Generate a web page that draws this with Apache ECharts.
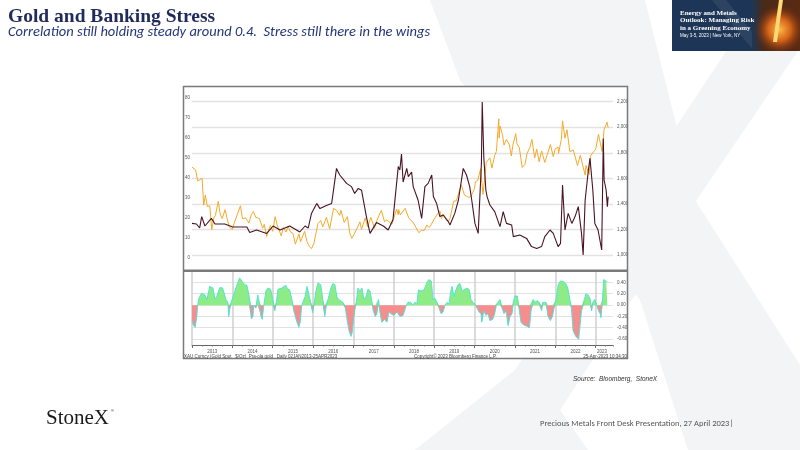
<!DOCTYPE html>
<html><head><meta charset="utf-8">
<script src="https://cdn.jsdelivr.net/npm/echarts@6/dist/echarts.min.js"></script>
<style>html,body{margin:0;padding:0;background:#fff}#c{width:800px;height:450px}</style>
</head><body><div id="c"></div>
<script>
// ---- data (x values in decimal years) ----
const goldYears = [2013.00,2013.04,2013.09,2013.14,2013.20,2013.25,2013.29,2013.33,2013.38,2013.44,2013.49,2013.54,2013.58,2013.65,2013.70,2013.75,2013.82,2013.87,2013.92,
2014.00,2014.04,2014.08,2014.20,2014.25,2014.29,2014.33,2014.41,2014.47,2014.52,2014.58,2014.62,2014.67,2014.75,2014.79,2014.85,2014.90,2014.94,
2015.00,2015.06,2015.11,2015.21,2015.26,2015.33,2015.38,2015.44,2015.50,2015.56,2015.65,2015.69,2015.79,2015.85,2015.91,2015.96,
2016.02,2016.12,2016.19,2016.24,2016.33,2016.41,2016.48,2016.51,2016.58,2016.66,2016.69,2016.77,2016.85,2016.91,2016.96,
2017.01,2017.09,2017.16,2017.20,2017.29,2017.35,2017.43,2017.52,2017.58,2017.69,2017.77,2017.83,2017.87,2017.95,
2018.07,2018.11,2018.12,2018.16,2018.28,2018.37,2018.41,2018.49,2018.55,2018.62,2018.69,2018.75,2018.82,2018.87,2018.92,
2019.00,2019.08,2019.14,2019.18,2019.23,2019.31,2019.38,2019.42,2019.48,2019.55,2019.58,2019.67,2019.75,2019.79,2019.86,2019.92,
2020.00,2020.02,2020.08,2020.15,2020.19,2020.21,2020.29,2020.38,2020.43,2020.50,2020.54,2020.58,2020.60,2020.61,2020.63,2020.69,2020.73,2020.79,2020.86,2020.91,2020.95,
2021.02,2021.05,2021.11,2021.18,2021.25,2021.30,2021.37,2021.42,2021.49,2021.54,2021.60,2021.66,2021.74,2021.80,2021.88,2021.95,
2022.00,2022.07,2022.08,2022.15,2022.18,2022.24,2022.29,2022.36,2022.45,2022.55,2022.62,2022.74,2022.76,2022.84,2022.87,2022.95,
2023.00,2023.07,2023.09,2023.16,2023.18,2023.21,2023.26,2023.28,2023.31];
const goldPrice = [1688,1680,1665,1580,1590,1600,1390,1470,1380,1385,1200,1290,1310,1420,1320,1285,1355,1285,1220,
1200,1245,1240,1385,1285,1300,1290,1250,1315,1340,1295,1305,1285,1210,1240,1145,1195,1230,
1185,1300,1235,1150,1215,1180,1225,1180,1170,1085,1165,1105,1185,1105,1065,1050,
1090,1245,1270,1220,1295,1205,1320,1366,1350,1310,1350,1255,1300,1170,1130,
1160,1210,1260,1200,1290,1220,1295,1210,1270,1350,1260,1275,1285,1240,
1360,1315,1355,1315,1365,1290,1295,1250,1215,1175,1195,1190,1235,1215,1235,
1280,1320,1345,1285,1320,1270,1275,1325,1420,1425,1410,1550,1470,1485,1450,1465,
1520,1575,1585,1675,1680,1475,1725,1760,1680,1780,1810,1975,2065,1915,2010,1945,1860,1905,1865,1775,1860,
1950,1870,1840,1685,1710,1795,1840,1905,1760,1830,1730,1815,1725,1785,1865,1770,
1830,1845,1795,1905,2050,1915,1980,1810,1820,1700,1780,1625,1700,1630,1775,1810,
1825,1945,1955,1810,1815,1985,2020,2040,1998];

const stressYears = [2013.00,2013.11,2013.19,2013.24,2013.32,2013.48,2013.57,2013.81,2014.01,2014.36,2014.43,2014.60,2014.85,2015.01,2015.18,2015.42,2015.59,2015.67,2015.80,2015.88,2015.96,
2016.09,2016.17,2016.33,2016.46,2016.58,2016.66,2016.83,2016.95,2017.03,2017.12,2017.20,2017.32,2017.41,2017.57,2017.74,2017.86,2017.98,
2018.11,2018.15,2018.19,2018.23,2018.32,2018.36,2018.44,2018.48,2018.60,2018.69,2018.77,2018.85,2018.94,2018.98,
2019.06,2019.14,2019.22,2019.35,2019.39,2019.51,2019.60,2019.72,2019.80,2019.88,2019.93,
2020.01,2020.09,2020.17,2020.19,2020.23,2020.28,2020.31,2020.38,2020.50,2020.63,2020.71,2020.79,2020.92,2020.96,
2021.12,2021.29,2021.41,2021.54,2021.66,2021.74,2021.87,2021.95,
2022.07,2022.13,2022.18,2022.24,2022.32,2022.41,2022.49,2022.57,2022.65,2022.69,2022.74,2022.82,2022.86,2022.93,2022.98,
2023.06,2023.15,2023.19,2023.21,2023.26,2023.29,2023.31];
const stressValues = [17.3,17,15,20.7,16,19.8,17,17,15.5,15.5,12.7,14,12.3,16,14,16,14,13,16,15,22.3,
27.3,24.7,26.3,27.3,44.8,41.5,37.3,35.7,32.3,34.8,33.9,20.7,12.3,17.7,16,14,19.3,
45.7,44,52,38,44.8,40.7,43,35.7,29,19.8,35.7,37.3,41.5,30.7,
27.3,20.7,21.5,18.2,16.5,22.3,29,44.8,41.5,35.7,29,
17.3,12.3,47.3,78,50,34,30.7,26.5,23.2,15.7,23.2,17.3,16.5,10.7,
11.5,9.8,5.7,4.8,5.7,10.7,14,12.3,
5.7,7.3,36.5,14,22.3,17.3,20.7,25.7,12.3,1.5,29,44,49.8,34,17.3,
14,4,59.8,39,34,25.7,30.7];

const corrYears = [2013.00,2013.03,2013.08,2013.12,2013.14,2013.16,2013.19,2013.24,2013.32,2013.37,2013.44,2013.52,2013.57,2013.61,2013.69,2013.76,2013.84,2013.89,2013.91,2013.94,2013.97,
2014.04,2014.11,2014.18,2014.26,2014.31,2014.36,2014.41,2014.44,2014.47,2014.51,2014.53,2014.58,2014.63,2014.67,2014.71,2014.74,2014.78,2014.83,2014.88,2014.95,
2015.00,2015.05,2015.09,2015.13,2015.23,2015.32,2015.37,2015.42,2015.49,2015.52,2015.60,2015.65,2015.68,2015.72,2015.80,2015.85,2015.89,2015.94,2015.99,
2016.03,2016.07,2016.12,2016.19,2016.24,2016.29,2016.33,2016.37,2016.44,2016.49,2016.54,2016.59,2016.63,2016.66,2016.74,2016.80,2016.84,2016.89,2016.94,2016.97,
2017.01,2017.03,2017.07,2017.11,2017.16,2017.21,2017.26,2017.31,2017.36,2017.41,2017.46,2017.49,2017.54,2017.58,2017.62,2017.65,2017.70,2017.77,2017.83,2017.88,2017.93,
2018.00,2018.08,2018.15,2018.23,2018.27,2018.31,2018.35,2018.42,2018.47,2018.52,2018.57,2018.61,2018.67,2018.75,2018.82,2018.87,2018.93,2018.97,
2019.02,2019.07,2019.12,2019.17,2019.22,2019.27,2019.32,2019.37,2019.40,2019.44,2019.49,2019.53,2019.59,2019.64,2019.69,2019.74,2019.81,2019.87,2019.91,2019.96,
2020.01,2020.06,2020.11,2020.16,2020.18,2020.23,2020.28,2020.33,2020.38,2020.45,2020.50,2020.54,2020.58,2020.63,2020.68,2020.73,2020.78,2020.83,2020.88,2020.93,2020.96,
2021.00,2021.06,2021.10,2021.15,2021.22,2021.30,2021.36,2021.40,2021.45,2021.50,2021.55,2021.60,2021.66,2021.69,2021.77,2021.82,2021.88,2021.93,2021.97,
2022.02,2022.07,2022.12,2022.19,2022.26,2022.31,2022.36,2022.40,2022.44,2022.51,2022.58,2022.62,2022.65,2022.69,2022.72,2022.76,2022.81,2022.86,2022.90,2022.93,2022.98,
2023.03,2023.07,2023.11,2023.13,2023.17,2023.20,2023.26,2023.29];
const corrValues = [-0.25,-0.35,-0.39,-0.2,0.0,0.09,0.15,0.21,0.18,0.1,0.33,0.3,0.1,0.15,0.31,0.3,0.1,0.05,-0.2,-0.05,0.05,
0.2,0.35,0.48,0.4,0.36,0.35,0.18,0.05,-0.24,-0.2,0.0,-0.05,0.18,0.05,-0.2,-0.25,0.0,0.25,0.3,0.28,
0.1,-0.1,0.05,0.28,0.3,0.35,0.28,0.27,0.05,-0.1,-0.3,-0.39,-0.3,0.0,0.15,0.33,0.3,0.05,-0.13,
0.05,0.25,0.39,0.36,0.1,-0.2,0.0,0.1,0.3,0.38,0.36,0.15,0.1,0.12,0.05,-0.05,-0.25,-0.45,-0.55,-0.48,
-0.2,-0.1,0.05,0.3,0.25,0.3,0.1,0.15,0.28,0.25,0.05,-0.1,-0.2,-0.15,0.1,-0.1,-0.3,-0.25,-0.3,-0.12,-0.15,
-0.18,-0.12,-0.2,-0.18,-0.15,0.0,0.05,0.05,0.0,0.05,0.02,0.27,0.25,0.27,0.4,0.45,0.42,0.1,
0.12,0.05,-0.05,-0.15,-0.12,0.0,0.05,0.02,0.2,0.33,0.15,0.25,0.36,0.38,0.25,0.27,0.3,0.27,0.1,0.05,
0.02,-0.05,-0.12,-0.15,-0.3,-0.1,-0.18,-0.15,-0.27,-0.25,-0.15,0.0,0.05,0.1,-0.05,-0.15,-0.1,-0.36,-0.2,-0.15,0.05,
0.16,0.16,-0.05,-0.3,-0.35,-0.37,-0.4,-0.1,0.1,0.05,0.08,0.05,-0.1,0.05,0.05,-0.2,-0.27,-0.2,-0.05,
0.1,0.35,0.42,0.42,0.38,0.3,0.1,-0.05,-0.45,-0.55,-0.6,-0.58,-0.1,0.0,0.1,0.2,0.18,0.12,-0.1,0.05,0.1,
0.0,-0.1,-0.15,-0.22,0.1,0.45,0.42,0.4];

const yearLabels = ['2013','2014','2015','2016','2017','2018','2019','2020','2021','2022','2023'];
const yearLabelPos = [2013.5,2014.5,2015.5,2016.5,2017.5,2018.5,2019.5,2020.5,2021.5,2022.5,2023.16];
const yearStarts = [2013,2014,2015,2016,2017,2018,2019,2020,2021,2022,2023];

const zip = (xs, ys) => xs.map((x, i) => [x, ys[i]]);
// positive and negative parts of the correlation, for the green / red fills
const corrPos = zip(corrYears, corrValues.map(v => (v > 0 ? v : 0)));
const corrNeg = zip(corrYears, corrValues.map(v => (v < 0 ? v : 0)));

const X_MIN = 2013, X_MAX = 2023.43;
const tickFont = {fontSize: 4.5, color: '#555', fontFamily: 'Liberation Sans'};

const chart = echarts.init(document.getElementById('c'), null, {renderer: 'canvas'});
const WM = '#f3f4f6';
const option = {
  animation: false,
  backgroundColor: '#ffffff',
  grid: [
    {left: 192, right: 187, top: 98, height: 160},
    {left: 192, right: 187, top: 101.7, height: 153.3},
    {left: 192, right: 187, top: 271, height: 74},
    {left: 192, right: 187, top: 282.3, height: 56.7}
  ],
  xAxis: [
    {gridIndex: 0, type: 'value', min: X_MIN, max: X_MAX, show: false},
    {gridIndex: 1, type: 'value', min: X_MIN, max: X_MAX, show: false},
    {gridIndex: 2, type: 'value', min: X_MIN, max: X_MAX, position: 'bottom',
      axisLine: {show: true, onZero: false, lineStyle: {color: '#666', width: 1}},
      axisTick: {show: true, customValues: yearStarts, length: 3, lineStyle: {color: '#666'}},
      splitLine: {show: true, lineStyle: {color: '#cfcfcf', width: 1.5}},
      axisLabel: Object.assign({customValues: yearLabelPos, margin: 4,
        formatter: v => yearLabels[yearLabelPos.indexOf(v)] || ''}, tickFont)},
    {gridIndex: 2, type: 'value', min: X_MIN, max: X_MAX, interval: 0.25, position: 'bottom',
      axisLine: {show: false, onZero: false}, axisLabel: {show: false}, splitLine: {show: false},
      axisTick: {show: true, length: 1.8, lineStyle: {color: '#777', width: 0.6}}},
    {gridIndex: 3, type: 'value', min: X_MIN, max: X_MAX, show: false}
  ],
  yAxis: [
    {gridIndex: 0, type: 'value', min: 0, max: 80, interval: 10, position: 'left',
      axisLine: {show: false}, axisTick: {show: false}, splitLine: {show: false},
      axisLabel: Object.assign({margin: 2}, tickFont)},
    {gridIndex: 1, type: 'value', min: 1000, max: 2200, interval: 200, position: 'right',
      axisLine: {show: false}, axisTick: {show: false},
      splitLine: {show: true, lineStyle: {color: '#e2e2e2', width: 1.3}},
      axisLabel: Object.assign({margin: 4}, tickFont)},
    {gridIndex: 2, type: 'value', min: -0.7, max: 0.6, show: false},
    {gridIndex: 3, type: 'value', min: -0.6, max: 0.4, interval: 0.2, position: 'right',
      axisLine: {show: false}, axisTick: {show: false},
      splitLine: {show: true, lineStyle: {color: '#e2e2e2', width: 1.2}},
      axisLabel: Object.assign({margin: 4, formatter: v => v.toFixed(2)}, tickFont)}
  ],
  series: [
    {name: 'Gold', type: 'line', xAxisIndex: 1, yAxisIndex: 1, data: zip(goldYears, goldPrice),
      showSymbol: false, lineStyle: {color: '#f4aa2a', width: 1}, z: 3},
    {name: 'Stress', type: 'line', xAxisIndex: 0, yAxisIndex: 0, data: zip(stressYears, stressValues),
      showSymbol: false, lineStyle: {color: '#4a1322', width: 1.1}, z: 4},
    {name: 'CorrPos', type: 'line', xAxisIndex: 2, yAxisIndex: 2, data: corrPos,
      showSymbol: false, lineStyle: {width: 0}, areaStyle: {color: '#8eec86', opacity: 1}, z: 3},
    {name: 'CorrNeg', type: 'line', xAxisIndex: 2, yAxisIndex: 2, data: corrNeg,
      showSymbol: false, lineStyle: {width: 0}, areaStyle: {color: '#f68e8e', opacity: 1}, z: 3},
    {name: 'Corr', type: 'line', xAxisIndex: 2, yAxisIndex: 2, data: zip(corrYears, corrValues),
      showSymbol: false, lineStyle: {color: '#45e3dc', width: 0.9}, z: 4}
  ],
  graphic: [
    // watermark X
    {type: 'polygon', z: -5, silent: true, shape: {points: [[430,0],[645,0],[695,200],[800,365],[800,450],[688,450],[640,300],[460,80]]}, style: {fill: WM}},
    {type: 'polygon', z: -5, silent: true, shape: {points: [[760,0],[800,0],[800,48],[700,195],[560,410],[588,450],[415,450],[515,370]]}, style: {fill: WM}},
    // chart image background
    {type: 'rect', z: -4, silent: true, shape: {x: 183, y: 86, width: 445, height: 273}, style: {fill: '#ffffff'}},
    // chart frame
    {type: 'rect', z: 10, silent: true, shape: {x: 183.5, y: 86.5, width: 444, height: 272}, style: {fill: 'none', stroke: '#7a7a7a', lineWidth: 1.5}},
    {type: 'rect', z: 10, silent: true, shape: {x: 183, y: 269.5, width: 445, height: 2.5}, style: {fill: '#7a7a7a'}},
    // in-chart footers
    {type: 'text', z: 10, style: {text: 'XAU Curncy (Gold Spot   $/Oz)  Pra-ola gold   Daily 02JAN2013-25APR2023', x: 184, y: 357, verticalAlign: 'middle', font: '4.5px "Liberation Sans"', fill: '#444'}},
    {type: 'text', z: 10, style: {text: 'Copyright\u00a9 2023 Bloomberg Finance L.P.', x: 414, y: 357, verticalAlign: 'middle', font: '4.5px "Liberation Sans"', fill: '#444'}},
    {type: 'text', z: 10, style: {text: '25-Apr-2023 10:34:30', x: 627, y: 357, align: 'right', verticalAlign: 'middle', font: '4.5px "Liberation Sans"', fill: '#444'}},
    // title
    {type: 'text', style: {text: 'Gold and Banking Stress', x: 8, y: 17, verticalAlign: 'middle', font: 'bold 19.5px "Liberation Serif"', fill: '#1f2b5b'}},
    {type: 'text', style: {text: 'Correlation still holding steady around 0.4.  Stress still there in the wings', x: 8, y: 32.5, verticalAlign: 'middle', font: 'italic 14.5px Carlito, "Liberation Sans Narrow", "Open Sans"', fill: '#25357a'}},
    // banner
    {type: 'rect', z: 5, shape: {x: 672, y: 0, width: 128, height: 51}, style: {fill: '#1d3657'}},
    {type: 'polygon', z: 5, shape: {points: [[712,0],[726,0],[768,51],[754,51]]}, style: {fill: 'rgba(255,255,255,0.07)'}},
    {type: 'rect', z: 5, shape: {x: 752, y: 0, width: 48, height: 51}, style: {fill: new echarts.graphic.LinearGradient(0,0,1,0,[{offset:0,color:'#1d3657'},{offset:0.25,color:'#4a2a18'},{offset:1,color:'#5a2a12'}])}},
    {type: 'rect', z: 5, shape: {x: 754, y: 0, width: 46, height: 51}, style: {fill: new echarts.graphic.RadialGradient(0.55,0.58,0.55,[{offset:0,color:'rgba(255,190,70,1)'},{offset:0.45,color:'rgba(235,110,25,0.85)'},{offset:1,color:'rgba(120,40,10,0)'}])}},
    {type: 'polygon', z: 5, shape: {points: [[779,0],[783,0],[777,42],[773,42]]}, style: {fill: '#ffd877'}},
    {type: 'text', z: 6, style: {text: 'Energy and Metals', x: 680, y: 13, verticalAlign: 'middle', font: 'bold 7px "Liberation Serif"', fill: '#fff'}},
    {type: 'text', z: 6, style: {text: 'Outlook: Managing Risk', x: 680, y: 20.5, verticalAlign: 'middle', font: 'bold 7px "Liberation Serif"', fill: '#fff'}},
    {type: 'text', z: 6, style: {text: 'in a Greening Economy', x: 680, y: 28, verticalAlign: 'middle', font: 'bold 7px "Liberation Serif"', fill: '#fff'}},
    {type: 'text', z: 6, style: {text: 'May 3-5, 2023 | New York, NY', x: 680, y: 35.5, verticalAlign: 'middle', font: '4.5px "Liberation Sans"', fill: '#fff'}},
    // footer
    {type: 'text', style: {text: 'Source:  Bloomberg,  StoneX', x: 573, y: 379, verticalAlign: 'middle', font: 'italic 6.5px "Liberation Sans"', fill: '#333'}},
    {type: 'text', style: {text: 'StoneX', x: 46, y: 418, verticalAlign: 'middle', font: '21px "Liberation Serif"', fill: '#1a1a1a'}},
    {type: 'text', style: {text: '\u00ae', x: 111, y: 411, verticalAlign: 'middle', font: '4px "Liberation Sans"', fill: '#1a1a1a'}},
    {type: 'text', style: {text: 'Precious Metals Front Desk Presentation, 27 April 2023|', x: 540, y: 424, verticalAlign: 'middle', font: '8.5px Carlito, "Liberation Sans Narrow", "Open Sans"', fill: '#555'}}
  ]
};
chart.setOption(option);
</script></body></html>
